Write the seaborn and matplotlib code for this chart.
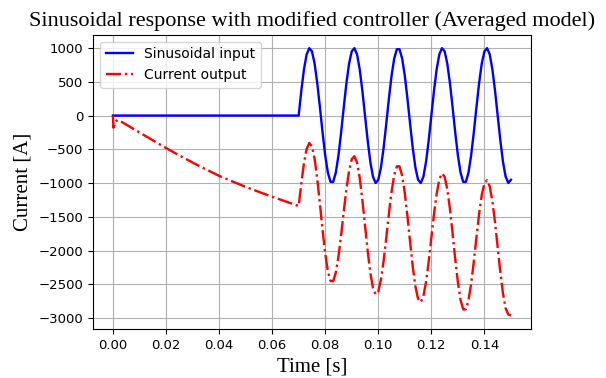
import matplotlib
matplotlib.use('Agg')
import matplotlib.pyplot as plt
import seaborn as sns

# time axis in milliseconds
t_in_ms = [0, 70, 71, 72, 73, 74, 75, 76, 77, 78, 79, 80, 81, 82, 83, 84, 85, 86, 87, 88, 89,
           90, 91, 92, 93, 94, 95, 96, 97, 98, 99, 100, 101, 102, 103, 104, 105, 106, 107, 108,
           109, 110, 111, 112, 113, 114, 115, 116, 117, 118, 119, 120, 121, 122, 123, 124, 125,
           126, 127, 128, 129, 130, 131, 132, 133, 134, 135, 136, 137, 138, 139, 140, 141, 142,
           143, 144, 145, 146, 147, 148, 149, 150]
sin_input = [0, 0, 368, 685, 905, 998, 951, 771, 482, 125, -249, -588, -844, -982, -982, -844,
             -588, -249, 125, 482, 771, 951, 998, 905, 685, 368, 0, -368, -685, -905, -998,
             -951, -771, -482, -125, 249, 588, 844, 982, 982, 844, 588, 249, -125, -482, -771,
             -951, -998, -905, -685, -368, 0, 368, 685, 905, 998, 951, 771, 482, 125, -249,
             -588, -844, -982, -982, -844, -588, -249, 125, 482, 771, 951, 998, 905, 685, 368,
             0, -368, -685, -905, -998, -951]

t_out_ms = [0, 0.2, 0.6, 1.2, 2, 4, 7, 10, 15, 20, 25, 30, 35, 40, 45, 50, 55, 60, 65,
            70, 71, 72, 73, 74, 75, 76, 77, 78, 79, 80, 81, 82, 83, 84, 85, 86, 87, 88, 89,
            90, 91, 92, 93, 94, 95, 96, 97, 98, 99, 100, 101, 102, 103, 104, 105, 106, 107, 108,
            109, 110, 111, 112, 113, 114, 115, 116, 117, 118, 119, 120, 121, 122, 123, 124, 125,
            126, 127, 128, 129, 130, 131, 132, 133, 134, 135, 136, 137, 138, 139, 140, 141, 142,
            143, 144, 145, 146, 147, 148, 149, 150]
current_out = [0, -180, -120, -80, -65, -110, -180, -250, -365, -480, -590, -695, -795, -892,
               -975, -1055, -1130, -1202, -1270,
               -1340, -1002, -702, -494, -406, -455, -640, -939, -1307, -1693, -2043, -2307,
               -2449, -2453, -2324, -2085, -1768, -1418, -1084, -814, -646, -602, -697, -923,
               -1248, -1625, -2002, -2327, -2553, -2648, -2603, -2431, -2154, -1812, -1453,
               -1129, -883, -751, -751, -891, -1152, -1496, -1876, -2239, -2532, -2715, -2763,
               -2673, -2463, -2161, -1810, -1459, -1157, -947, -858, -905, -1088, -1381, -1744,
               -2124, -2468, -2729, -2869, -2869, -2735, -2488, -2161, -1799, -1454, -1175,
               -1001, -956, -1049, -1268, -1585, -1952, -2319, -2636, -2855, -2945, -2960]

t_in = [v / 1000 for v in t_in_ms]
t_out = [v / 1000 for v in t_out_ms]

fig = plt.figure(figsize=(6.06, 3.78), dpi=100)
ax = fig.add_axes([0.1535, 0.13, 0.7225, 0.778])

sns.lineplot(x=t_in, y=sin_input, color='blue', linewidth=1.7, label='Sinusoidal input', ax=ax)
sns.lineplot(x=t_out, y=current_out, color='red', linewidth=1.7, linestyle='-.',
             label='Current output', ax=ax)

ax.set_xticks([0.00, 0.02, 0.04, 0.06, 0.08, 0.10, 0.12, 0.14])
ax.set_yticks([1000, 500, 0, -500, -1000, -1500, -2000, -2500, -3000])
ax.tick_params(labelsize=9.5)
ax.grid(True, color='#b0b0b0', linewidth=0.8)

serif = ['Liberation Serif', 'DejaVu Serif']
ax.set_title('Sinusoidal response with modified controller (Averaged model)',
             family=serif, fontsize=16)
ax.set_xlabel('Time [s]', family=serif, fontsize=15)
ax.set_ylabel('Current [A]', family=serif, fontsize=15)
ax.legend(loc='upper left', fontsize=10)

plt.savefig('out.png', dpi=100)
